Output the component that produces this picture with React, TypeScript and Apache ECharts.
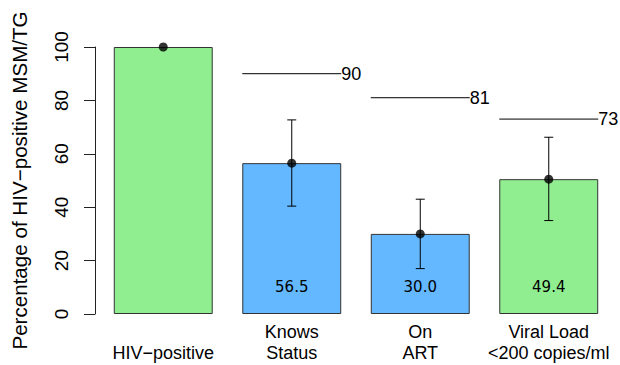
import React, { useEffect, useRef } from "react";
import * as echarts from "echarts";

const categories = ["\nHIV\u2212positive", "Knows\nStatus", "On\nART", "Viral Load\n<200 copies/ml"];
const barValues = [100, 56.5, 30.0, 50.5];
const barColors = ["#90EE90", "#63B8FF", "#63B8FF", "#90EE90"];
const barLabels = ["", "56.5", "30.0", "49.4"];
const errLow = [100, 40.4, 17.0, 35.0];
const errHigh = [100, 72.7, 43.0, 66.2];
const targetCats = [1, 2, 3];
const targetValues = [90, 81, 73];
const yTicks = [0, 20, 40, 60, 80, 100];

const SANS = "'Liberation Sans', Arial, Helvetica, sans-serif";

export default function App() {
  const ref = useRef<HTMLDivElement>(null);
  useEffect(() => {
    if (!ref.current) return;
    const chart = echarts.init(ref.current, null, { renderer: "svg" });
    const option: any = {
      animation: false,
      backgroundColor: "#ffffff",
      grid: { left: 99, right: 7, top: 47, bottom: 51, containLabel: false },
      xAxis: {
        type: "category",
        data: categories,
        axisLine: { show: false },
        axisTick: { show: false },
        axisLabel: {
          fontFamily: SANS,
          fontSize: 18,
          color: "#000",
          lineHeight: 21,
          margin: 7,
          interval: 0,
        },
      },
      yAxis: {
        type: "value",
        min: yTicks[0],
        max: yTicks[yTicks.length - 1],
        interval: 20,
        offset: 4,
        name: "Percentage of HIV\u2212positive MSM/TG",
        nameLocation: "middle",
        nameRotate: 90,
        nameGap: 65,
        nameTextStyle: { fontFamily: SANS, fontSize: 20.6, color: "#000" },
        axisLine: { show: true, lineStyle: { color: "#222", width: 1 } },
        axisTick: { show: true, length: 11, lineStyle: { color: "#222", width: 1 } },
        axisLabel: {
          rotate: 90,
          margin: 24,
          fontFamily: SANS,
          fontSize: 19,
          color: "#000",
        },
        splitLine: { show: false },
      },
      series: [
        {
          type: "bar",
          data: barValues.map((v, i) => ({
            value: v,
            itemStyle: { color: barColors[i] },
          })),
          barCategoryGap: "23%",
          itemStyle: { borderColor: "#333", borderWidth: 1 },
          label: {
            show: true,
            position: "insideBottom",
            distance: 20,
            fontFamily: "'DejaVu Sans', sans-serif",
            fontSize: 15,
            color: "#000",
            formatter: (p: any) => barLabels[p.dataIndex],
          },
          z: 1,
        },
        {
          type: "custom",
          data: errLow.map((lo, i) => [i, lo, errHigh[i]]),
          renderItem: (params: any, api: any) => {
            const i = api.value(0);
            const lo = api.coord([i, api.value(1)]);
            const hi = api.coord([i, api.value(2)]);
            if (Math.abs(lo[1] - hi[1]) < 0.5) return { type: "group", children: [] };
            const cw = 4.5;
            const st = { stroke: "#000", lineWidth: 1 };
            return {
              type: "group",
              children: [
                { type: "line", shape: { x1: lo[0], y1: lo[1], x2: hi[0], y2: hi[1] }, style: st },
                { type: "line", shape: { x1: lo[0] - cw, y1: lo[1], x2: lo[0] + cw, y2: lo[1] }, style: st },
                { type: "line", shape: { x1: hi[0] - cw, y1: hi[1], x2: hi[0] + cw, y2: hi[1] }, style: st },
              ],
            };
          },
          z: 3,
        },
        {
          type: "scatter",
          data: barValues.map((v, i) => [i, v]),
          symbol: "circle",
          symbolSize: 9,
          itemStyle: { color: "#000" },
          z: 4,
        },
        {
          type: "custom",
          data: targetCats.map((c, i) => [c, targetValues[i]]),
          renderItem: (params: any, api: any) => {
            const c = api.value(0);
            const v = api.value(1);
            const p = api.coord([c, v]);
            const band = api.size([1, 0])[0];
            const half = (band * 0.77) / 2;
            return {
              type: "group",
              children: [
                {
                  type: "line",
                  shape: { x1: p[0] - half, y1: p[1], x2: p[0] + half, y2: p[1] },
                  style: { stroke: "#000", lineWidth: 1 },
                },
                {
                  type: "text",
                  x: p[0] + half,
                  y: p[1],
                  style: {
                    text: String(v),
                    fontFamily: SANS,
                    fontSize: 18,
                    fill: "#000",
                    align: "left",
                    verticalAlign: "middle",
                  },
                },
              ],
            };
          },
          z: 5,
        },
      ],
    };
    chart.setOption(option);
    return () => chart.dispose();
  }, []);
  return <div ref={ref} style={{ width: 620, height: 365, position: "absolute", left: 0, top: 0 }} />;
}
